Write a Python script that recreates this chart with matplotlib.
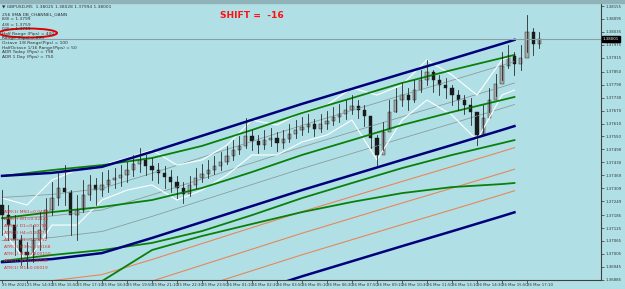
import numpy as np
import matplotlib.pyplot as plt
from matplotlib.patches import Ellipse, Rectangle

# candles, one every 4 bars of M5 (open = previous close)
bar_idx = list(range(0, 348, 4))
first_open = 1.37232
high = [1.37301, 1.37232, 1.37185, 1.37093, 1.37060, 1.37139, 1.37199, 1.37264, 1.37339, 1.37385,
        1.37417, 1.37301, 1.37278, 1.37348, 1.37371, 1.37357, 1.37385, 1.37394, 1.37403, 1.37417,
        1.37431, 1.37464, 1.37496, 1.37464, 1.37450, 1.37427, 1.37413, 1.37394, 1.37366, 1.37339,
        1.37366, 1.37403, 1.37422, 1.37441, 1.37459, 1.37478, 1.37506, 1.37533, 1.37552, 1.37635,
        1.37580, 1.37557, 1.37580, 1.37589, 1.37571, 1.37580, 1.37608, 1.37626, 1.37640, 1.37654,
        1.37631, 1.37654, 1.37668, 1.37687, 1.37700, 1.37719, 1.37742, 1.37719, 1.37696, 1.37635,
        1.37557, 1.37617, 1.37719, 1.37775, 1.37798, 1.37775, 1.37812, 1.37858, 1.37905, 1.37858,
        1.37835, 1.37821, 1.37789, 1.37765, 1.37742, 1.37728, 1.37663, 1.37696, 1.37775, 1.37840,
        1.37942, 1.37974, 1.37942, 1.37974, 1.38113, 1.38053, 1.38035]
low = [1.37093, 1.37069, 1.37000, 1.36953, 1.36939, 1.36967, 1.37023, 1.37079, 1.37185, 1.37232,
       1.37232, 1.37093, 1.37069, 1.37199, 1.37255, 1.37232, 1.37274, 1.37292, 1.37311, 1.37320,
       1.37339, 1.37366, 1.37385, 1.37371, 1.37348, 1.37334, 1.37311, 1.37292, 1.37264, 1.37241,
       1.37274, 1.37311, 1.37339, 1.37357, 1.37376, 1.37394, 1.37422, 1.37441, 1.37468, 1.37496,
       1.37487, 1.37473, 1.37492, 1.37506, 1.37482, 1.37496, 1.37524, 1.37543, 1.37557, 1.37571,
       1.37552, 1.37571, 1.37584, 1.37603, 1.37617, 1.37631, 1.37654, 1.37635, 1.37598, 1.37496,
       1.37417, 1.37487, 1.37589, 1.37663, 1.37691, 1.37673, 1.37710, 1.37756, 1.37789, 1.37756,
       1.37742, 1.37728, 1.37696, 1.37673, 1.37654, 1.37603, 1.37510, 1.37557, 1.37663, 1.37738,
       1.37812, 1.37867, 1.37835, 1.37858, 1.37942, 1.37928, 1.37960]
close = [1.37185, 1.37139, 1.37069, 1.37014, 1.37000, 1.37069, 1.37116, 1.37209, 1.37264, 1.37311,
         1.37292, 1.37185, 1.37209, 1.37278, 1.37325, 1.37301, 1.37325, 1.37348, 1.37357, 1.37371,
         1.37394, 1.37422, 1.37441, 1.37413, 1.37394, 1.37380, 1.37362, 1.37339, 1.37311, 1.37283,
         1.37325, 1.37357, 1.37376, 1.37394, 1.37413, 1.37431, 1.37459, 1.37487, 1.37506, 1.37552,
         1.37529, 1.37510, 1.37533, 1.37543, 1.37519, 1.37538, 1.37561, 1.37580, 1.37594, 1.37608,
         1.37584, 1.37608, 1.37622, 1.37640, 1.37654, 1.37673, 1.37691, 1.37673, 1.37645, 1.37543,
         1.37464, 1.37571, 1.37663, 1.37719, 1.37742, 1.37719, 1.37765, 1.37812, 1.37849, 1.37812,
         1.37789, 1.37775, 1.37742, 1.37719, 1.37696, 1.37663, 1.37557, 1.37635, 1.37719, 1.37793,
         1.37877, 1.37923, 1.37886, 1.37914, 1.38035, 1.37979, 1.38001]

# channel lines (shift -16, so they stop 16 bars before the last candle)
line_bars = [0, 32, 64, 96, 128, 160, 192, 224, 256, 288, 320, 328]
navy_upper = [1.37367, 1.37381, 1.37409, 1.37479, 1.37553, 1.37627, 1.37701, 1.37771, 1.37841, 1.37910, 1.37980, 1.37998]
navy_mid = [1.36967, 1.36981, 1.37009, 1.37079, 1.37153, 1.37227, 1.37301, 1.37371, 1.37441, 1.37510, 1.37580, 1.37598]
navy_lower = [1.36567, 1.36581, 1.36609, 1.36679, 1.36753, 1.36827, 1.36901, 1.36971, 1.37041, 1.37110, 1.37180, 1.37198]
gray_1 = [1.37067, 1.37081, 1.37109, 1.37179, 1.37253, 1.37327, 1.37401, 1.37471, 1.37541, 1.37610, 1.37680, 1.37698]
gray_2 = [1.37167, 1.37181, 1.37209, 1.37279, 1.37353, 1.37427, 1.37501, 1.37571, 1.37641, 1.37710, 1.37780, 1.37798]
gray_3 = [1.37267, 1.37281, 1.37309, 1.37379, 1.37453, 1.37527, 1.37601, 1.37671, 1.37741, 1.37810, 1.37880, 1.37898]
orange_1 = [1.36867, 1.36881, 1.36909, 1.36979, 1.37053, 1.37127, 1.37201, 1.37271, 1.37341, 1.37410, 1.37480, 1.37498]
orange_2 = [1.36767, 1.36781, 1.36809, 1.36879, 1.36953, 1.37027, 1.37101, 1.37171, 1.37241, 1.37310, 1.37380, 1.37398]
orange_3 = [1.36667, 1.36681, 1.36709, 1.36779, 1.36853, 1.36927, 1.37001, 1.37071, 1.37141, 1.37210, 1.37280, 1.37298]
green_0 = [1.37366, 1.37394, 1.37417, 1.37450, 1.37506, 1.37580, 1.37659, 1.37728, 1.37798, 1.37858, 1.37914, 1.37928]
green_1 = [1.37171, 1.37199, 1.37223, 1.37255, 1.37311, 1.37385, 1.37464, 1.37533, 1.37603, 1.37663, 1.37719, 1.37733]
green_2 = [1.36972, 1.37000, 1.37023, 1.37056, 1.37111, 1.37185, 1.37264, 1.37334, 1.37403, 1.37464, 1.37519, 1.37533]
green_3_bars = [56, 64, 96, 128, 160, 192, 224, 256, 288, 320, 328]
green_3 = [1.36842, 1.36879, 1.37023, 1.37088, 1.37144, 1.37199, 1.37246, 1.37287, 1.37315, 1.37329, 1.37334]

# white envelope round price
white_bars = [0, 16, 32, 48, 64, 80, 96, 112, 128, 144, 160, 176, 192, 208, 224, 240, 256, 272, 288, 304, 320, 328]
white_up = [1.37264, 1.37232, 1.37348, 1.37394, 1.37417, 1.37450, 1.37487, 1.37417, 1.37441, 1.37510, 1.37626,
            1.37603, 1.37663, 1.37696, 1.37775, 1.37742, 1.37789, 1.37905, 1.37835, 1.37742, 1.37905, 1.37928]
white_dn = [1.37116, 1.36967, 1.37139, 1.37139, 1.37255, 1.37301, 1.37325, 1.37255, 1.37301, 1.37371, 1.37464,
            1.37464, 1.37524, 1.37557, 1.37626, 1.37441, 1.37626, 1.37719, 1.37649, 1.37533, 1.37742, 1.37765]

bid = 1.38001
price_ticks = [1.38155, 1.38095, 1.38035, 1.37975, 1.37915, 1.37850, 1.37790, 1.37730, 1.37670, 1.37610, 1.37550,
               1.37490, 1.37430, 1.37369, 1.37309, 1.37249, 1.37185, 1.37125, 1.37065, 1.37005, 1.36945, 1.36885]
time_labels = ['25 Mar 2021', '25 Mar 14:30', '25 Mar 15:50', '25 Mar 17:10', '25 Mar 18:30', '25 Mar 19:50',
               '25 Mar 21:10', '25 Mar 22:30', '25 Mar 23:50', '26 Mar 01:10', '26 Mar 02:30', '26 Mar 03:50',
               '26 Mar 05:10', '26 Mar 06:30', '26 Mar 07:50', '26 Mar 09:10', '26 Mar 10:30', '26 Mar 11:50',
               '26 Mar 13:10', '26 Mar 14:30', '26 Mar 15:50', '26 Mar 17:10']
info_lines = ['256 SMA DB_CHANNEL_GANN', '8/8 = 1.3799', '4/8 = 1.3759', '0/8 = 1.3719',
              'Half Range (Pips) = 400', 'Range (Pips) = 800', 'Octave 1/8 Range(Pips) = 100',
              'HalfOctave 1/16 Range(Pips) = 50', 'ADR Today (Pips) = 798', 'ADR 1 Day (Pips) = 750']
atr_lines = ['ATR(1) MN1=0.04491', 'ATR(1) W1=0.02121', 'ATR(1) D1=0.00798', 'ATR(1) H4=0.00475',
             'ATR(1) H1=0.00252', 'ATR(1) M30=0.00168', 'ATR(1) M15=0.00150', 'ATR(1) M5=0.00046',
             'ATR(1) M1=0.00019']

bg = '#b0e0e6'
W, H = 625, 289
fs = 2.8
fs_info = 3.2
fig = plt.figure(figsize=(W / 100, H / 100), dpi=100, facecolor=bg)
ax = fig.add_axes([0, 9 / H, 601 / W, 277 / H], facecolor=bg)
ax.set_xlim(-1.3, 383.4)
ax.set_ylim(1.36884, 1.38169)

# lines first, candles on top
for gr in (gray_1, gray_2, gray_3):
    ax.plot(line_bars, gr, color='#8c9c9c', lw=0.6)
for o in (orange_1, orange_2, orange_3):
    ax.plot(line_bars, o, color='#e8865a', lw=0.8)
ax.plot(white_bars, white_up, color='white', lw=0.8)
ax.plot(white_bars, white_dn, color='white', lw=0.8)
for g in (green_0, green_1, green_2):
    ax.plot(line_bars, g, color='#0a800a', lw=1.3)
ax.plot(green_3_bars, green_3, color='#0a800a', lw=1.3)
for n in (navy_upper, navy_mid, navy_lower):
    ax.plot(line_bars, n, color='#00007a', lw=1.8)

opens = [first_open] + close[:-1]
for b, o, h, l, c in zip(bar_idx, opens, high, low, close):
    ax.plot([b, b], [l, h], color='#1a1a1a', lw=0.55)
    fc = '#a8a8a8' if c >= o else '#1a1a1a'
    ax.add_patch(Rectangle((b - 1.0, min(o, c)), 2.0, max(abs(c - o), 0.00002),
                           facecolor=fc, edgecolor='#1a1a1a', lw=0.3))

ax.axhline(bid, color='#8a9ea2', lw=0.8)

ax.yaxis.tick_right()
ax.set_yticks(price_ticks)
ax.set_yticklabels([f'{v:.5f}' for v in price_ticks])
ax.tick_params(axis='y', labelsize=fs, length=2, pad=1, colors='#303030', width=0.5)
ax.set_xticks(list(range(0, 352, 16)))
ax.set_xticklabels(time_labels, ha='left')
ax.tick_params(axis='x', labelsize=fs, length=2, pad=0.5, colors='#303030', width=0.5)
for s in ('top', 'left'):
    ax.spines[s].set_visible(False)
for s in ('right', 'bottom'):
    ax.spines[s].set_color('#404040')
    ax.spines[s].set_linewidth(0.8)

# bid price tag on the scale
ax.text(1.003, bid, '1.38001', transform=ax.get_yaxis_transform(), fontsize=fs, color='white',
        va='center', ha='left', bbox=dict(boxstyle='square,pad=0.2', fc='black', ec='black'))

# frame strip at top
fig.patches.append(Rectangle((0, 1 - 3 / H), 1, 3 / H, transform=fig.transFigure, color='#8fb3b9'))

fig.text(2 / W, 1 - 6 / H, '\u25bc GBPUSD,M5  1.38025 1.38028 1.37994 1.38001', fontsize=fs_info,
         color='#303030', va='center')
info_y = [14, 19.5, 24.5, 29, 33.5, 38, 43, 47.5, 52.5, 57]
for yy, t in zip(info_y, info_lines):
    fig.text(2 / W, 1 - yy / H, t, fontsize=fs_info, color='#303030', va='center')
fig.patches.append(Ellipse((28 / W, 1 - 33 / H), 58 / W, 9 / H, transform=fig.transFigure,
                           fill=False, edgecolor='#e00000', lw=1.4))
for i, t in enumerate(atr_lines):
    fig.text(4 / W, 1 - (212 + i * 7.0) / H, t, fontsize=fs_info, color='#e03030', va='center')

fig.text(220 / W, 1 - 15 / H, 'SHIFT =  -16', fontsize=6.6, fontweight='bold', color='#ff1010', va='center')

fig.savefig('out.png', dpi=100, facecolor=bg)
